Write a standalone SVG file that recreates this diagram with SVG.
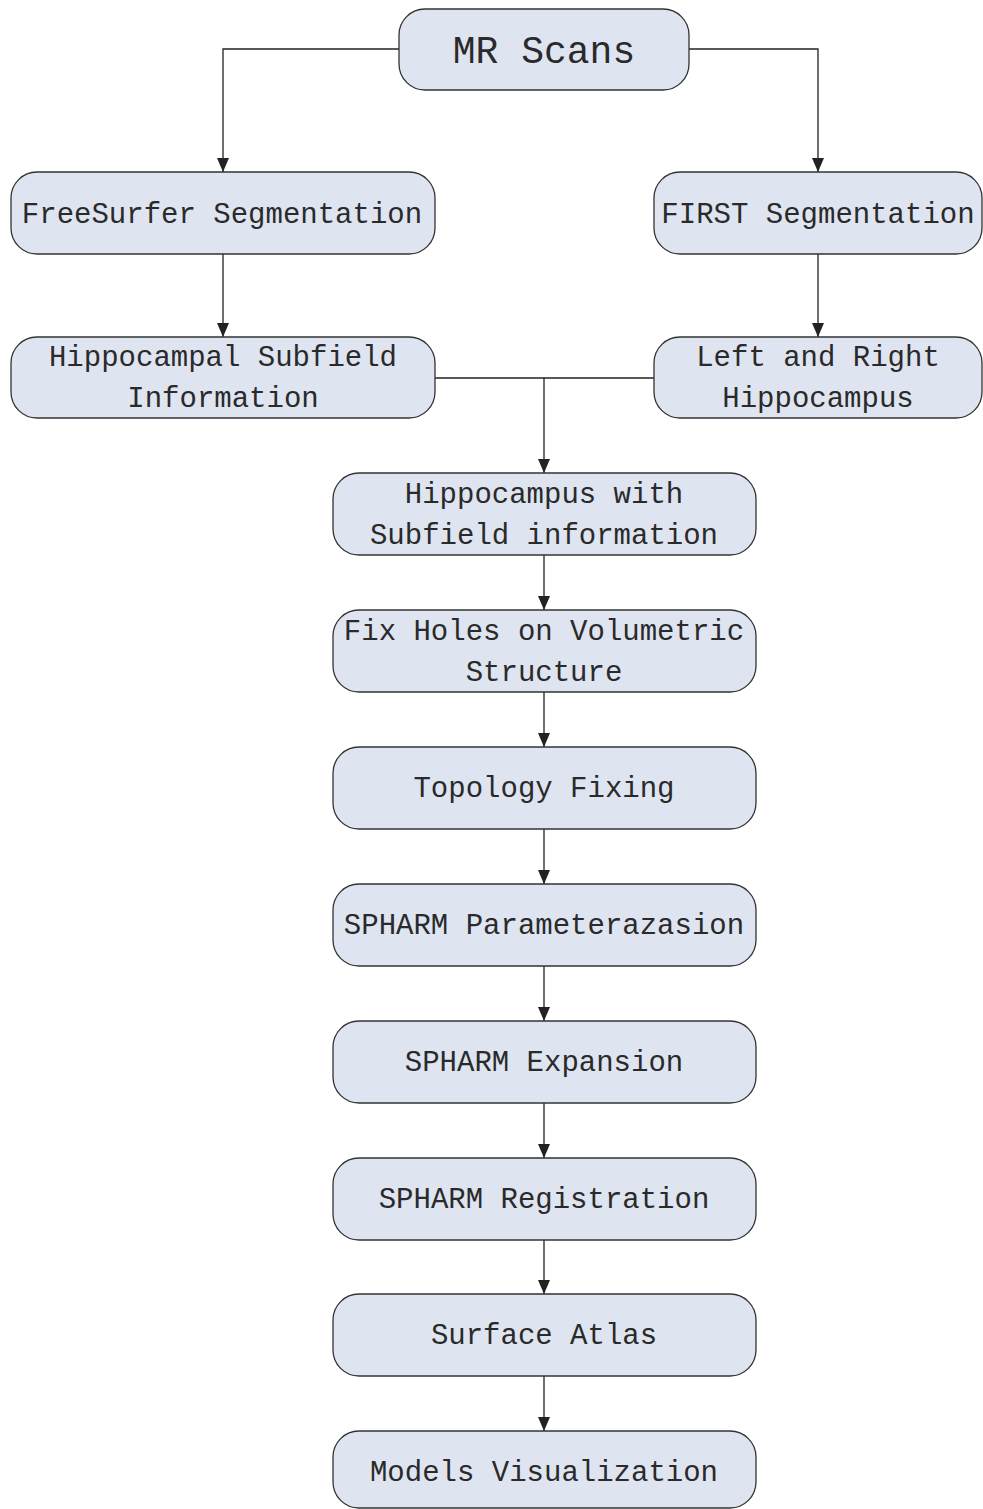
<svg xmlns="http://www.w3.org/2000/svg" width="983" height="1509" viewBox="0 0 983 1509">
<style>
.box{fill:#dfe4f1;stroke:#333;stroke-width:1.3}
.t{font-family:"Liberation Mono","DejaVu Sans Mono",monospace;font-size:29px;fill:#2a2a2a;text-anchor:middle}
.big{font-size:38px}
.c{fill:none;stroke:#222;stroke-width:1.3}
</style>
<defs>
<marker id="a" viewBox="0 0 14 12" refX="14" refY="6" markerWidth="14" markerHeight="12" markerUnits="userSpaceOnUse" orient="auto">
<path d="M0,0 L14,6 L0,12 Z" fill="#222"/>
</marker>
</defs>
<rect width="983" height="1509" fill="#fff"/>
<g id="connectors">
<path class="c" d="M399,49 H223 V172" marker-end="url(#a)"/>
<path class="c" d="M689,49 H818 V172" marker-end="url(#a)"/>
<path class="c" d="M223,254 V337" marker-end="url(#a)"/>
<path class="c" d="M818,254 V337" marker-end="url(#a)"/>
<path class="c" d="M435,378 H654"/>
<path class="c" d="M544,378 V473" marker-end="url(#a)"/>
<path class="c" d="M544,555 V610" marker-end="url(#a)"/>
<path class="c" d="M544,692 V747" marker-end="url(#a)"/>
<path class="c" d="M544,829 V884" marker-end="url(#a)"/>
<path class="c" d="M544,966 V1021" marker-end="url(#a)"/>
<path class="c" d="M544,1103 V1158" marker-end="url(#a)"/>
<path class="c" d="M544,1240 V1294" marker-end="url(#a)"/>
<path class="c" d="M544,1376 V1431" marker-end="url(#a)"/>
</g>
<g id="mr">
<rect class="box" x="399" y="9" width="290" height="81" rx="26"/>
<text class="t big" x="544" y="63">MR Scans</text>
</g>
<g id="freesurfer">
<rect class="box" x="11" y="172" width="424" height="82" rx="26"/>
<text class="t" x="222" y="223">FreeSurfer Segmentation</text>
</g>
<g id="first">
<rect class="box" x="654" y="172" width="328" height="82" rx="26"/>
<text class="t" x="818" y="223">FIRST Segmentation</text>
</g>
<g id="subfield">
<rect class="box" x="11" y="337" width="424" height="81" rx="26"/>
<text class="t" x="223" y="366">Hippocampal Subfield</text>
<text class="t" x="223" y="407">Information</text>
</g>
<g id="leftright">
<rect class="box" x="654" y="337" width="328" height="81" rx="26"/>
<text class="t" x="818" y="366">Left and Right</text>
<text class="t" x="818" y="407">Hippocampus</text>
</g>
<g id="hipwith">
<rect class="box" x="333" y="473" width="423" height="82" rx="26"/>
<text class="t" x="544" y="503">Hippocampus with</text>
<text class="t" x="544" y="544">Subfield information</text>
</g>
<g id="fixholes">
<rect class="box" x="333" y="610" width="423" height="82" rx="26"/>
<text class="t" x="544" y="640">Fix Holes on Volumetric</text>
<text class="t" x="544" y="681">Structure</text>
</g>
<g id="topology">
<rect class="box" x="333" y="747" width="423" height="82" rx="26"/>
<text class="t" x="544" y="797">Topology Fixing</text>
</g>
<g id="param">
<rect class="box" x="333" y="884" width="423" height="82" rx="26"/>
<text class="t" x="544" y="934">SPHARM Parameterazasion</text>
</g>
<g id="expansion">
<rect class="box" x="333" y="1021" width="423" height="82" rx="26"/>
<text class="t" x="544" y="1071">SPHARM Expansion</text>
</g>
<g id="registration">
<rect class="box" x="333" y="1158" width="423" height="82" rx="26"/>
<text class="t" x="544" y="1208">SPHARM Registration</text>
</g>
<g id="atlas">
<rect class="box" x="333" y="1294" width="423" height="82" rx="26"/>
<text class="t" x="544" y="1344">Surface Atlas</text>
</g>
<g id="vis">
<rect class="box" x="333" y="1431" width="423" height="77" rx="26"/>
<text class="t" x="544" y="1481">Models Visualization</text>
</g>
</svg>
